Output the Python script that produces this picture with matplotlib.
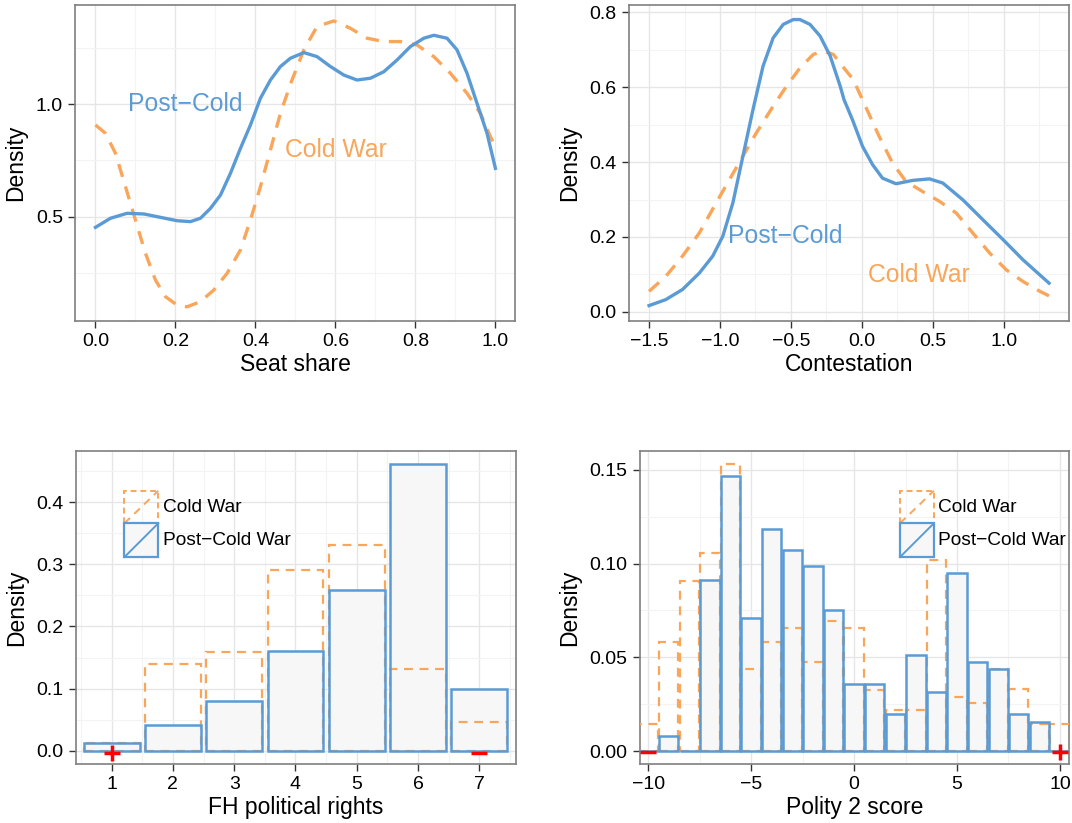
import numpy as np
import matplotlib
matplotlib.use("Agg")
import matplotlib.pyplot as plt
from matplotlib.patches import Rectangle
from matplotlib.lines import Line2D
from matplotlib.ticker import MultipleLocator, FuncFormatter

plt.rcParams['font.family'] = ['Liberation Sans', 'DejaVu Sans']

BLUE = '#5B9BD5'
ORANGE = '#F9A65A'
GRID = '#e6e6e6'
GRID_MINOR = '#f3f3f3'
BORDER = '#7f7f7f'
FILL = '#f7f7f7'

#################### Data ##################
# seat share densities
seat_post_x = [0.0, 0.0375, 0.079, 0.121, 0.1625, 0.204, 0.2375, 0.2625, 0.2875, 0.3125,
               0.3375, 0.3625, 0.3875, 0.4125, 0.4375, 0.4625, 0.4875, 0.521, 0.554, 0.5875,
               0.621, 0.654, 0.6875, 0.721, 0.754, 0.7875, 0.821, 0.846, 0.879, 0.904,
               0.929, 0.954, 0.979, 1.0]
seat_post_y = [0.4525, 0.493, 0.515, 0.512, 0.497, 0.482, 0.478, 0.493, 0.537, 0.596,
               0.693, 0.804, 0.908, 1.027, 1.108, 1.168, 1.205, 1.230, 1.212, 1.168,
               1.130, 1.108, 1.116, 1.145, 1.197, 1.257, 1.294, 1.307, 1.294, 1.242,
               1.138, 1.004, 0.871, 0.715]
seat_cold_x = [0.0, 0.025, 0.05, 0.075, 0.1, 0.125, 0.15, 0.175, 0.204, 0.229, 0.2625,
               0.296, 0.329, 0.3625, 0.3875, 0.4125, 0.4375, 0.4625, 0.4875, 0.521, 0.554,
               0.596, 0.6375, 0.679, 0.721, 0.7625, 0.804, 0.846, 0.8875, 0.929, 0.9625,
               0.9875, 1.0]
seat_cold_y = [0.908, 0.871, 0.782, 0.634, 0.485, 0.337, 0.218, 0.144, 0.107, 0.099, 0.122,
               0.174, 0.248, 0.352, 0.485, 0.634, 0.797, 0.960, 1.090, 1.242, 1.346,
               1.371, 1.338, 1.294, 1.279, 1.279, 1.264, 1.212, 1.138, 1.049, 0.960,
               0.856, 0.812]

# contestation densities
cont_post_x = [-1.5, -1.382, -1.264, -1.145, -1.051, -0.98, -0.909, -0.838, -0.767, -0.696,
               -0.625, -0.554, -0.483, -0.436, -0.365, -0.294, -0.223, -0.152, -0.125, -0.066,
               0.005, 0.076, 0.146, 0.241, 0.359, 0.477, 0.571, 0.713, 0.854, 0.996,
               1.137, 1.255, 1.32]
cont_post_y = [0.017, 0.033, 0.060, 0.104, 0.149, 0.202, 0.291, 0.416, 0.540, 0.656,
               0.731, 0.767, 0.780, 0.780, 0.767, 0.736, 0.683, 0.602, 0.566, 0.513,
               0.442, 0.393, 0.357, 0.342, 0.351, 0.355, 0.344, 0.299, 0.246, 0.193,
               0.139, 0.099, 0.077]
cont_cold_x = [-1.5, -1.382, -1.264, -1.145, -1.027, -0.933, -0.838, -0.743, -0.625, -0.531,
               -0.436, -0.342, -0.271, -0.2, -0.15, -0.06, 0.005, 0.123, 0.217, 0.312,
               0.43, 0.548, 0.666, 0.784, 0.902, 1.02, 1.138, 1.256, 1.32]
cont_cold_y = [0.055, 0.095, 0.149, 0.211, 0.291, 0.353, 0.416, 0.478, 0.549, 0.602,
               0.651, 0.687, 0.696, 0.687, 0.662, 0.620, 0.566, 0.468, 0.397, 0.348,
               0.321, 0.295, 0.264, 0.210, 0.157, 0.112, 0.081, 0.055, 0.043]

# FH political rights histogram
fh_scores = [1, 2, 3, 4, 5, 6, 7]
fh_post = [0.012, 0.042, 0.080, 0.160, 0.259, 0.461, 0.099]
fh_cold = [0.013, 0.139, 0.159, 0.291, 0.331, 0.132, 0.046]

# Polity 2 histogram
polity_scores = list(range(-10, 11))
polity_post = [0.0, 0.008, 0.0, 0.091, 0.1465, 0.0712, 0.1185, 0.107, 0.0988, 0.0751, 0.0356,
               0.0356, 0.0198, 0.0513, 0.0315, 0.0949, 0.0475, 0.0436, 0.0198, 0.0157, 0.0]
polity_cold = [0.0146, 0.0584, 0.0908, 0.1057, 0.1532, 0.0436, 0.0584, 0.0655, 0.0475, 0.0692, 0.0655,
               0.0326, 0.0219, 0.0219, 0.102, 0.029, 0.0254, 0.0436, 0.0329, 0.0146, 0.0146]


#################### Functions ##################
def fmt(digits):
    return FuncFormatter(lambda v, pos: f'{v:.{digits}f}'.replace('-', '\u2212'))


def style_axes(ax, xmajor, xminor, ymajor, yminor):
    ax.xaxis.set_major_locator(MultipleLocator(xmajor))
    ax.xaxis.set_minor_locator(MultipleLocator(xminor))
    ax.yaxis.set_major_locator(MultipleLocator(ymajor))
    ax.yaxis.set_minor_locator(MultipleLocator(yminor))
    ax.grid(which='major', color=GRID, lw=1.0, zorder=0)
    ax.grid(which='minor', color=GRID_MINOR, lw=0.8, zorder=0)
    ax.set_axisbelow(True)
    for s in ax.spines.values():
        s.set_color(BORDER)
        s.set_linewidth(1.2)
    ax.tick_params(which='major', direction='out', length=5, width=1,
                   color='#333333', labelsize=14, pad=4)
    ax.tick_params(which='minor', length=0)


def hist_pair(ax, x, post, cold, width):
    # blue fill first, then orange dashed outline, then blue edges on top
    ax.bar(x, post, width=width, color=FILL, edgecolor='none', zorder=2)
    ax.bar(x, cold, width=width, fill=False, edgecolor=ORANGE, lw=1.6,
           ls=(0, (4, 3)), zorder=3)
    ax.bar(x, post, width=width, fill=False, edgecolor=BLUE, lw=1.8, zorder=4)


def legend_boxes(ax, x0, x1, ytop, ymid, ybot, xtext):
    t = ax.transAxes
    ax.add_patch(Rectangle((x0, ymid), x1 - x0, ytop - ymid, transform=t, fill=False,
                           edgecolor=ORANGE, lw=1.4, ls=(0, (3, 2)), zorder=6, clip_on=False))
    ax.add_line(Line2D([x0, x1], [ymid, ytop], transform=t, color=ORANGE, lw=1.4,
                       ls=(0, (4, 3)), zorder=6))
    ax.add_patch(Rectangle((x0, ybot), x1 - x0, ymid - ybot, transform=t, facecolor=FILL,
                           edgecolor=BLUE, lw=1.6, zorder=6, clip_on=False))
    ax.add_line(Line2D([x0, x1], [ybot, ymid], transform=t, color=BLUE, lw=1.4, zorder=7))
    ax.text(xtext, (ytop + ymid) / 2, 'Cold War', transform=t, fontsize=13.8,
            va='center', ha='left', zorder=7)
    ax.text(xtext, (ymid + ybot) / 2, 'Post\u2212Cold War', transform=t, fontsize=13.8,
            va='center', ha='left', zorder=7)


#################### Plot ##################
fig = plt.figure(figsize=(10.72, 8.23), dpi=100)

ax1 = fig.add_axes([0.0704, 0.610, 0.4104, 0.384])
ax2 = fig.add_axes([0.5868, 0.610, 0.4104, 0.384])
ax3 = fig.add_axes([0.0709, 0.0717, 0.4104, 0.3803])
ax4 = fig.add_axes([0.597, 0.0717, 0.4002, 0.3803])

# seat share
style_axes(ax1, 0.2, 0.1, 0.5, 0.25)
ax1.plot(seat_cold_x, seat_cold_y, color=ORANGE, lw=2.4, ls=(0, (4, 3)), zorder=3)
ax1.plot(seat_post_x, seat_post_y, color=BLUE, lw=2.4, zorder=4)
ax1.set_xlim(-0.05, 1.05)
ax1.set_ylim(0.036, 1.442)
ax1.xaxis.set_major_formatter(fmt(1))
ax1.yaxis.set_major_formatter(fmt(1))
ax1.set_xlabel('Seat share', fontsize=16.5, labelpad=2)
ax1.set_ylabel('Density', fontsize=16.5, labelpad=6)
ax1.text(0.081, 1.0, 'Post\u2212Cold', color=BLUE, fontsize=17.8, va='center', ha='left')
ax1.text(0.475, 0.797, 'Cold War', color=ORANGE, fontsize=17.8, va='center', ha='left')

# contestation
style_axes(ax2, 0.5, 0.25, 0.2, 0.1)
ax2.plot(cont_cold_x, cont_cold_y, color=ORANGE, lw=2.4, ls=(0, (4, 3)), zorder=3)
ax2.plot(cont_post_x, cont_post_y, color=BLUE, lw=2.4, zorder=4)
ax2.set_xlim(-1.641, 1.461)
ax2.set_ylim(-0.024, 0.819)
ax2.xaxis.set_major_formatter(fmt(1))
ax2.yaxis.set_major_formatter(fmt(1))
ax2.set_xlabel('Contestation', fontsize=16.5, labelpad=2)
ax2.set_ylabel('Density', fontsize=16.5, labelpad=6)
ax2.text(-0.946, 0.2015, 'Post\u2212Cold', color=BLUE, fontsize=17.8, va='center', ha='left')
ax2.text(0.047, 0.099, 'Cold War', color=ORANGE, fontsize=17.8, va='center', ha='left')

# FH political rights
style_axes(ax3, 1, 0.5, 0.1, 0.05)
hist_pair(ax3, fh_scores, fh_post, fh_cold, 0.91)
ax3.set_xlim(0.418, 7.6)
ax3.set_ylim(-0.021, 0.482)
ax3.yaxis.set_major_formatter(fmt(1))
ax3.set_xlabel('FH political rights', fontsize=16.5, labelpad=2)
ax3.set_ylabel('Density', fontsize=16.5, labelpad=6)
ax3.plot(fh_scores[0], -0.003, marker='+', color='red', ms=12, mew=2.5, zorder=8)
ax3.plot(fh_scores[-1], -0.003, marker='_', color='red', ms=12, mew=2.5, zorder=8)
legend_boxes(ax3, 0.110, 0.187, 0.873, 0.769, 0.661, 0.197)

# Polity 2
style_axes(ax4, 5, 2.5, 0.05, 0.025)
hist_pair(ax4, polity_scores, polity_post, polity_cold, 0.94)
ax4.set_xlim(-10.4, 10.44)
ax4.set_ylim(-0.0069, 0.160)
ax4.xaxis.set_major_formatter(fmt(0))
ax4.yaxis.set_major_formatter(fmt(2))
ax4.set_xlabel('Polity 2 score', fontsize=16.5, labelpad=2)
ax4.set_ylabel('Density', fontsize=16.5, labelpad=6)
ax4.plot(polity_scores[0], -0.0003, marker='_', color='red', ms=12, mew=2.5, zorder=8)
ax4.plot(polity_scores[-1], -0.0003, marker='+', color='red', ms=12, mew=2.5, zorder=8)
legend_boxes(ax4, 0.606, 0.685, 0.873, 0.769, 0.661, 0.694)

fig.savefig('out.png', dpi=100, facecolor='w')
